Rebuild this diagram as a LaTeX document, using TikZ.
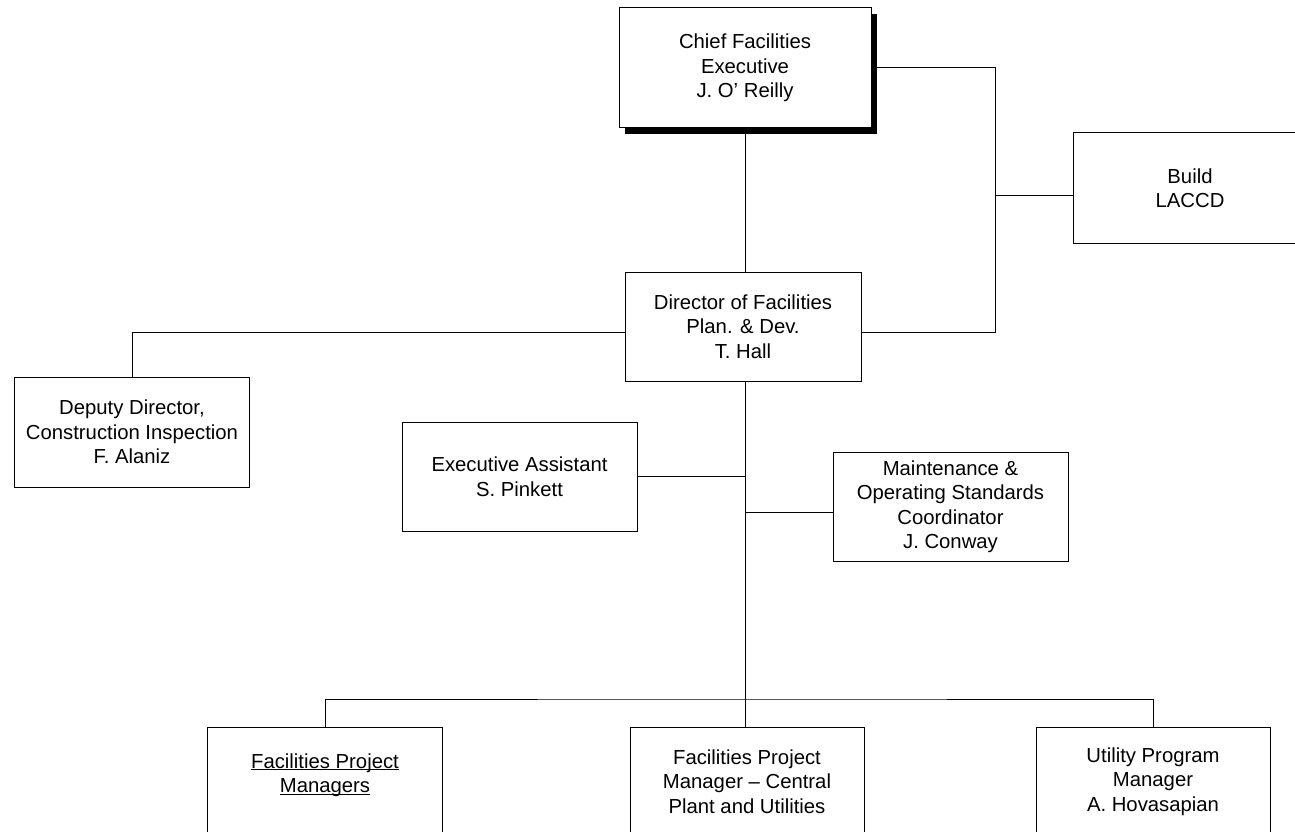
\documentclass[tikz,border=0pt]{standalone}
\usepackage{fontspec}
\setmainfont{Liberation Sans}
\usetikzlibrary{shadows}
\newcommand\ulword[1]{\underline{\smash{#1}}}
\begin{document}
\begin{tikzpicture}[x=1pt,y=-1pt,
  orgbox/.style={draw=black, fill=white, rectangle, line width=1pt, align=center,
    inner sep=0pt, minimum width=235pt, minimum height=109pt,
    font=\fontsize{20.3}{24.5}\selectfont},
  link/.style={draw=black, line width=1pt}]
\useasboundingbox (0,0) rectangle (1295,832);
\clip (0,0) rectangle (1295,832);

% top of the chart
\node[orgbox, minimum width=252pt, minimum height=120pt,
      drop shadow={shadow xshift=6pt, shadow yshift=-6pt, fill=black, opacity=1}]
  (chief) at (745,68) {Chief Facilities\\Executive\\J. O' Reilly};
\node[orgbox, minimum width=234pt, minimum height=110pt] (build) at (1190,188) {Build\\LACCD};
\node[orgbox, minimum width=236pt] (dir) at (743,326.5) {Director of Facilities\\Plan. \& Dev.\\T. Hall};

% middle row
\node[orgbox, minimum height=110pt] (deputy) at (132,432) {Deputy Director,\\Construction Inspection\\F. Alaniz};
\node[orgbox] (exec) at (519.5,476.5) {Executive Assistant\\S. Pinkett};
\node[orgbox] (maint) at (950.5,506.5) {Maintenance \&\\Operating Standards\\Coordinator\\J. Conway};

% bottom row
\node[orgbox] (fpm) at (325,781.5) {\ulword{Facilities Project}\\\ulword{Managers}};
\node[orgbox, minimum width=234pt] (fpmc) at (747,781.5) {Facilities Project\\Manager -- Central\\Plant and Utilities};
\node[orgbox, minimum width=234pt] (upm) at (1153,781.5) {Utility Program\\Manager\\A. Hovasapian};

% junction points
\coordinate (rjoin) at (995,195);
\coordinate (bus) at (745,699);

% connectors
\draw[link] (chief.east) -| (rjoin) |- ([yshift=-5.5pt]dir.east);
\draw[link] (rjoin) -- (rjoin -| build.west);
\draw[link] (chief.south) -- (chief.south |- dir.north);
\draw[link] ([yshift=-5.5pt]dir.west) -| (deputy.north);
\draw[link] (chief.south |- dir.south) -- (bus);
\draw[link] (exec.east) -- (exec.east -| bus);
\draw[link] ([yshift=-5.5pt]maint.west) -- ([yshift=-5.5pt]maint.west -| bus);
\draw[link] (fpm.north) |- (bus) -| (upm.north);
\draw[link] (bus) -- (bus |- fpmc.north);
\end{tikzpicture}
\end{document}
